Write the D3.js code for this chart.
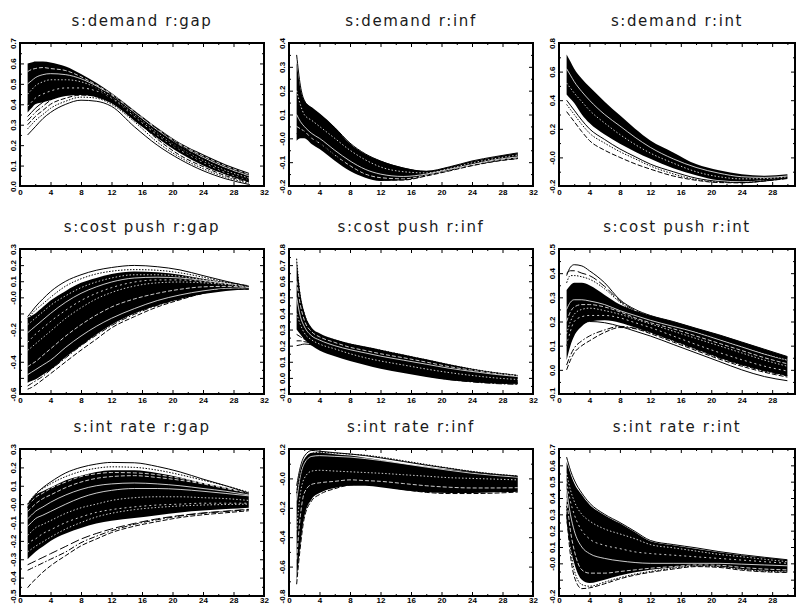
<!DOCTYPE html>
<html>
<head>
<meta charset="utf-8">
<script src="https://cdn.jsdelivr.net/npm/d3@7"></script>
<style>
  body { margin: 0; background: #fff; }
  .tick text { font-family: "Liberation Sans", Arial, sans-serif; font-weight: bold; font-size: 8px; fill: #000; }
  .tick line { stroke: #000; stroke-width: 1; }
</style>
</head>
<body>
<div id="chart"></div>
<script>
"use strict";

var periods = [1, 1.5, 2, 3, 4, 6, 8, 10, 12, 15, 18, 21, 24, 27, 30];
var xTickLabels = ["0", "4", "8", "12", "16", "20", "24", "28", "32"];

var titles = [
  "s:demand r:gap", "s:demand r:inf", "s:demand r:int",
  "s:cost push r:gap", "s:cost push r:inf", "s:cost push r:int",
  "s:int rate r:gap", "s:int rate r:inf", "s:int rate r:int"
];

// y tick labels per panel (as printed)
var demandGapTicks = ["0.0", "0.1", "0.2", "0.3", "0.4", "0.5", "0.6", "0.7"];
var demandInfTicks = ["-0.2", "-0.1", "-0.0", "0.1", "0.2", "0.3", "0.4"];
var demandIntTicks = ["-0.2", "-0.0", "0.2", "0.4", "0.6", "0.8"];
var costGapTicks = ["-0.6", "-0.4", "-0.2", "-0.0", "0.1", "0.2", "0.3"];
var costInfTicks = ["-0.1", "0.0", "0.1", "0.2", "0.3", "0.4", "0.5", "0.6", "0.7", "0.8"];
var costIntTicks = ["-0.1", "0.0", "0.1", "0.2", "0.3", "0.4", "0.5"];
var rateGapTicks = ["-0.5", "-0.4", "-0.3", "-0.2", "-0.1", "-0.0", "0.1", "0.2", "0.3"];
var rateInfTicks = ["-0.8", "-0.6", "-0.4", "-0.2", "-0.0", "0.2"];
var rateIntTicks = ["-0.2", "-0.0", "0.1", "0.2", "0.3", "0.4", "0.5", "0.6", "0.7"];
var tickSteps = [0.1, 0.1, 0.2, 0.1, 0.1, 0.1, 0.1, 0.2, 0.1];

// ---- s:demand r:gap
var demandGapUpper = [0.60, 0.605, 0.61, 0.61, 0.605, 0.585, 0.548, 0.505, 0.455, 0.37, 0.285, 0.21, 0.155, 0.105, 0.065];
var demandGapLower = [0.36, 0.38, 0.40, 0.41, 0.42, 0.44, 0.445, 0.435, 0.405, 0.32, 0.235, 0.16, 0.10, 0.055, 0.02];
var demandGapLines = [
  [0.25, 0.27, 0.29, 0.33, 0.36, 0.40, 0.42, 0.415, 0.39, 0.29, 0.20, 0.13, 0.075, 0.035, 0.008],
  [0.30, 0.32, 0.34, 0.37, 0.40, 0.43, 0.445, 0.44, 0.41, 0.33, 0.23, 0.15, 0.095, 0.05, 0.02],
  [0.28, 0.30, 0.32, 0.35, 0.38, 0.415, 0.435, 0.43, 0.40, 0.315, 0.215, 0.14, 0.085, 0.043, 0.014],
  [0.32, 0.34, 0.36, 0.39, 0.42, 0.45, 0.46, 0.45, 0.425, 0.345, 0.255, 0.175, 0.11, 0.06, 0.025],
  [0.40, 0.42, 0.44, 0.47, 0.49, 0.505, 0.50, 0.48, 0.445, 0.365, 0.28, 0.20, 0.135, 0.085, 0.045],
  [0.34, 0.36, 0.38, 0.41, 0.44, 0.465, 0.47, 0.46, 0.435, 0.355, 0.265, 0.185, 0.12, 0.07, 0.03]
];
var demandGapGaps = [
  [0.50, 0.515, 0.53, 0.545, 0.55, 0.545, 0.525, 0.49, 0.445, 0.36, 0.275, 0.20, 0.14, 0.09, 0.05],
  [0.45, 0.47, 0.49, 0.51, 0.52, 0.52, 0.51, 0.48, 0.435, 0.35, 0.26, 0.185, 0.125, 0.075, 0.04],
  [0.56, 0.57, 0.575, 0.58, 0.575, 0.565, 0.535, 0.495, 0.45, 0.365, 0.28, 0.205, 0.148, 0.098, 0.058],
  [0.39, 0.41, 0.43, 0.45, 0.465, 0.48, 0.48, 0.465, 0.43, 0.34, 0.25, 0.175, 0.115, 0.065, 0.03]
];

// ---- s:demand r:inf
var demandInfUpper = [0.32, 0.21, 0.16, 0.13, 0.105, 0.047, -0.022, -0.066, -0.094, -0.122, -0.137, -0.12, -0.096, -0.078, -0.062];
var demandInfLower = [-0.01, 0.0, 0.0, -0.025, -0.045, -0.094, -0.137, -0.165, -0.179, -0.176, -0.158, -0.137, -0.115, -0.098, -0.087];
var demandInfLines = [
  [0.35, 0.22, 0.16, 0.125, 0.10, 0.045, -0.02, -0.065, -0.095, -0.125, -0.138, -0.12, -0.095, -0.077, -0.061],
  [0.02, 0.03, 0.03, 0.0, -0.02, -0.07, -0.12, -0.155, -0.175, -0.175, -0.158, -0.137, -0.115, -0.097, -0.085]
];
var demandInfGaps = [
  [0.10, 0.07, 0.05, 0.02, 0.0, -0.05, -0.095, -0.13, -0.15, -0.16, -0.15, -0.13, -0.11, -0.09, -0.078],
  [0.20, 0.14, 0.10, 0.075, 0.05, 0.0, -0.05, -0.09, -0.12, -0.14, -0.145, -0.127, -0.103, -0.085, -0.07],
  [0.05, 0.04, 0.03, 0.0, -0.02, -0.07, -0.115, -0.15, -0.165, -0.17, -0.155, -0.135, -0.112, -0.094, -0.082]
];

// ---- s:demand r:int
var demandIntUpper = [0.72, 0.67, 0.62, 0.55, 0.494, 0.39, 0.294, 0.20, 0.118, 0.035, -0.047, -0.09, -0.118, -0.128, -0.118];
var demandIntLower = [0.44, 0.41, 0.38, 0.30, 0.24, 0.16, 0.095, 0.04, -0.01, -0.075, -0.125, -0.16, -0.168, -0.16, -0.145];
var demandIntLines = [
  [0.40, 0.365, 0.33, 0.26, 0.20, 0.125, 0.059, 0.005, -0.047, -0.10, -0.145, -0.168, -0.176, -0.165, -0.145],
  [0.32, 0.285, 0.25, 0.18, 0.118, 0.05, 0.0, -0.045, -0.082, -0.13, -0.16, -0.176, -0.178, -0.165, -0.148],
  [0.37, 0.335, 0.30, 0.23, 0.17, 0.10, 0.04, -0.01, -0.06, -0.115, -0.155, -0.172, -0.176, -0.163, -0.146]
];
var demandIntGaps = [
  [0.62, 0.575, 0.53, 0.46, 0.40, 0.30, 0.22, 0.14, 0.07, -0.01, -0.07, -0.11, -0.135, -0.14, -0.13],
  [0.52, 0.485, 0.45, 0.39, 0.33, 0.24, 0.16, 0.09, 0.03, -0.04, -0.10, -0.135, -0.15, -0.148, -0.136]
];

// ---- s:cost push r:gap
var costGapUpper = [-0.13, -0.115, -0.10, -0.06, -0.02, 0.04, 0.09, 0.12, 0.145, 0.16, 0.155, 0.14, 0.115, 0.095, 0.075];
var costGapLower = [-0.53, -0.52, -0.51, -0.48, -0.45, -0.37, -0.30, -0.23, -0.17, -0.10, -0.05, -0.01, 0.02, 0.04, 0.05];
var costGapLines = [
  [-0.12, -0.09, -0.06, -0.01, 0.035, 0.10, 0.14, 0.168, 0.185, 0.198, 0.19, 0.17, 0.135, 0.10, 0.068],
  [-0.57, -0.56, -0.545, -0.51, -0.474, -0.40, -0.328, -0.26, -0.19, -0.12, -0.06, -0.015, 0.025, 0.05, 0.05],
  [-0.13, -0.105, -0.08, -0.04, 0.0, 0.07, 0.115, 0.145, 0.162, 0.172, 0.168, 0.152, 0.125, 0.095, 0.068],
  [-0.55, -0.535, -0.52, -0.49, -0.45, -0.375, -0.30, -0.235, -0.175, -0.105, -0.05, -0.01, 0.025, 0.048, 0.052]
];
var costGapGaps = [
  [-0.22, -0.20, -0.18, -0.14, -0.10, -0.03, 0.025, 0.065, 0.095, 0.12, 0.125, 0.12, 0.105, 0.088, 0.07],
  [-0.33, -0.31, -0.29, -0.25, -0.21, -0.13, -0.065, -0.01, 0.03, 0.07, 0.09, 0.095, 0.09, 0.08, 0.065],
  [-0.43, -0.415, -0.40, -0.36, -0.32, -0.24, -0.17, -0.11, -0.06, -0.01, 0.025, 0.05, 0.065, 0.068, 0.062],
  [-0.28, -0.255, -0.23, -0.19, -0.15, -0.08, -0.02, 0.025, 0.06, 0.095, 0.108, 0.108, 0.098, 0.085, 0.068],
  [-0.48, -0.465, -0.45, -0.42, -0.39, -0.31, -0.24, -0.18, -0.13, -0.07, -0.02, 0.015, 0.04, 0.055, 0.058],
  [-0.17, -0.15, -0.13, -0.09, -0.05, 0.01, 0.06, 0.095, 0.12, 0.14, 0.14, 0.13, 0.11, 0.09, 0.072]
];

// ---- s:cost push r:inf
var costInfUpper = [0.74, 0.52, 0.41, 0.31, 0.277, 0.24, 0.214, 0.195, 0.175, 0.145, 0.115, 0.085, 0.057, 0.035, 0.018];
var costInfLower = [0.30, 0.27, 0.24, 0.20, 0.17, 0.135, 0.105, 0.08, 0.057, 0.03, 0.005, -0.015, -0.026, -0.033, -0.037];
var costInfLines = [
  [0.20, 0.205, 0.21, 0.205, 0.19, 0.16, 0.13, 0.10, 0.075, 0.045, 0.02, -0.005, -0.022, -0.032, -0.037],
  [0.23, 0.23, 0.225, 0.215, 0.20, 0.17, 0.14, 0.11, 0.085, 0.055, 0.03, 0.005, -0.012, -0.025, -0.032],
  [0.74, 0.50, 0.40, 0.30, 0.27, 0.235, 0.21, 0.19, 0.172, 0.142, 0.112, 0.082, 0.055, 0.033, 0.016],
  [0.27, 0.255, 0.24, 0.215, 0.195, 0.158, 0.123, 0.095, 0.07, 0.04, 0.013, -0.01, -0.025, -0.035, -0.04]
];
var costInfGaps = [
  [0.50, 0.38, 0.32, 0.26, 0.235, 0.20, 0.175, 0.155, 0.135, 0.11, 0.085, 0.06, 0.04, 0.022, 0.008],
  [0.40, 0.33, 0.28, 0.235, 0.21, 0.18, 0.15, 0.125, 0.105, 0.08, 0.055, 0.033, 0.015, 0.0, -0.01],
  [0.60, 0.45, 0.36, 0.285, 0.255, 0.22, 0.19, 0.17, 0.15, 0.125, 0.098, 0.07, 0.048, 0.028, 0.012]
];

// ---- s:cost push r:int
var costIntUpper = [0.33, 0.35, 0.36, 0.36, 0.35, 0.31, 0.27, 0.245, 0.225, 0.20, 0.172, 0.145, 0.115, 0.085, 0.055];
var costIntLower = [0.04, 0.10, 0.14, 0.18, 0.20, 0.205, 0.195, 0.175, 0.155, 0.12, 0.085, 0.05, 0.02, -0.005, -0.025];
var costIntLines = [
  [0.39, 0.425, 0.435, 0.43, 0.41, 0.36, 0.29, 0.25, 0.225, 0.20, 0.172, 0.145, 0.115, 0.085, 0.055],
  [0.0, 0.04, 0.07, 0.10, 0.12, 0.155, 0.175, 0.17, 0.15, 0.115, 0.08, 0.045, 0.015, -0.01, -0.03],
  [0.36, 0.39, 0.39, 0.385, 0.375, 0.335, 0.28, 0.24, 0.215, 0.19, 0.16, 0.13, 0.10, 0.07, 0.04],
  [0.02, 0.06, 0.09, 0.12, 0.14, 0.165, 0.18, 0.172, 0.155, 0.12, 0.085, 0.05, 0.02, -0.005, -0.025],
  [0.40, 0.41, 0.41, 0.40, 0.39, 0.345, 0.285, 0.245, 0.22, 0.195, 0.168, 0.14, 0.11, 0.08, 0.05],
  [0.10, 0.14, 0.17, 0.19, 0.20, 0.195, 0.18, 0.16, 0.14, 0.105, 0.07, 0.035, 0.0, -0.028, -0.045]
];
var costIntGaps = [
  [0.25, 0.28, 0.29, 0.29, 0.285, 0.27, 0.245, 0.225, 0.205, 0.18, 0.155, 0.125, 0.095, 0.065, 0.04],
  [0.15, 0.20, 0.23, 0.25, 0.255, 0.245, 0.23, 0.21, 0.19, 0.16, 0.13, 0.10, 0.07, 0.04, 0.015],
  [0.20, 0.24, 0.26, 0.27, 0.27, 0.26, 0.24, 0.215, 0.195, 0.17, 0.14, 0.11, 0.08, 0.05, 0.025],
  [0.10, 0.16, 0.20, 0.22, 0.225, 0.225, 0.215, 0.195, 0.175, 0.14, 0.105, 0.072, 0.042, 0.015, -0.005]
];

// ---- s:int rate r:gap
var rateGapUpper = [0.0, 0.03, 0.05, 0.07, 0.09, 0.13, 0.155, 0.175, 0.185, 0.185, 0.17, 0.145, 0.115, 0.09, 0.06];
var rateGapLower = [-0.30, -0.28, -0.26, -0.23, -0.20, -0.16, -0.13, -0.105, -0.09, -0.075, -0.06, -0.045, -0.035, -0.027, -0.02];
var rateGapLines = [
  [-0.02, 0.02, 0.05, 0.09, 0.12, 0.17, 0.20, 0.218, 0.227, 0.225, 0.205, 0.175, 0.136, 0.10, 0.06],
  [-0.455, -0.43, -0.41, -0.37, -0.336, -0.28, -0.227, -0.19, -0.155, -0.12, -0.095, -0.073, -0.058, -0.047, -0.036],
  [0.0, 0.03, 0.055, 0.085, 0.11, 0.15, 0.178, 0.195, 0.203, 0.20, 0.185, 0.16, 0.13, 0.10, 0.065],
  [-0.36, -0.35, -0.34, -0.32, -0.30, -0.26, -0.21, -0.175, -0.145, -0.11, -0.085, -0.065, -0.05, -0.04, -0.03],
  [-0.33, -0.32, -0.31, -0.29, -0.27, -0.23, -0.19, -0.16, -0.135, -0.105, -0.08, -0.062, -0.048, -0.038, -0.028]
];
var rateGapGaps = [
  [-0.08, -0.06, -0.04, -0.015, 0.01, 0.05, 0.08, 0.10, 0.11, 0.115, 0.11, 0.10, 0.085, 0.07, 0.05],
  [-0.17, -0.15, -0.13, -0.11, -0.09, -0.05, -0.02, 0.0, 0.02, 0.035, 0.04, 0.04, 0.035, 0.03, 0.02],
  [-0.04, -0.02, 0.0, 0.03, 0.05, 0.09, 0.12, 0.14, 0.15, 0.155, 0.145, 0.13, 0.11, 0.085, 0.06],
  [-0.22, -0.20, -0.19, -0.16, -0.14, -0.10, -0.07, -0.045, -0.03, -0.015, -0.005, 0.0, 0.005, 0.005, 0.005],
  [-0.12, -0.10, -0.08, -0.06, -0.04, 0.0, 0.035, 0.06, 0.075, 0.085, 0.085, 0.08, 0.07, 0.058, 0.045],
  [-0.26, -0.245, -0.23, -0.205, -0.18, -0.135, -0.10, -0.07, -0.05, -0.03, -0.018, -0.01, -0.005, -0.002, 0.0],
  [-0.01, 0.015, 0.035, 0.06, 0.085, 0.12, 0.15, 0.165, 0.172, 0.17, 0.16, 0.14, 0.115, 0.09, 0.062]
];

// ---- s:int rate r:inf
var rateInfUpper = [-0.07, 0.06, 0.13, 0.175, 0.175, 0.165, 0.155, 0.14, 0.125, 0.10, 0.08, 0.06, 0.043, 0.027, 0.015];
var rateInfLower = [-0.70, -0.45, -0.26, -0.14, -0.10, -0.065, -0.05, -0.05, -0.06, -0.08, -0.095, -0.10, -0.10, -0.095, -0.09];
var rateInfLines = [
  [-0.05, 0.08, 0.15, 0.19, 0.185, 0.175, 0.166, 0.155, 0.14, 0.115, 0.09, 0.068, 0.045, 0.028, 0.015],
  [-0.72, -0.46, -0.27, -0.15, -0.11, -0.07, -0.045, -0.04, -0.05, -0.075, -0.095, -0.103, -0.103, -0.10, -0.093],
  [-0.10, 0.04, 0.12, 0.17, 0.178, 0.172, 0.165, 0.158, 0.145, 0.12, 0.095, 0.07, 0.048, 0.03, 0.017]
];
var rateInfGaps = [
  [-0.15, 0.02, 0.10, 0.15, 0.155, 0.15, 0.145, 0.135, 0.122, 0.10, 0.077, 0.055, 0.035, 0.02, 0.008],
  [-0.35, -0.10, 0.0, 0.05, 0.055, 0.05, 0.045, 0.04, 0.035, 0.025, 0.015, 0.005, 0.0, -0.005, -0.01],
  [-0.55, -0.25, -0.10, -0.04, -0.03, -0.02, -0.01, -0.015, -0.02, -0.035, -0.05, -0.06, -0.065, -0.065, -0.063]
];

// ---- s:int rate r:int
var rateIntUpper = [0.62, 0.55, 0.49, 0.42, 0.36, 0.295, 0.245, 0.19, 0.135, 0.11, 0.09, 0.068, 0.05, 0.035, 0.02];
var rateIntLower = [0.25, 0.10, 0.0, -0.10, -0.12, -0.10, -0.075, -0.055, -0.04, -0.025, -0.015, -0.02, -0.035, -0.045, -0.05];
var rateIntLines = [
  [0.65, 0.57, 0.51, 0.43, 0.37, 0.30, 0.25, 0.195, 0.14, 0.115, 0.095, 0.072, 0.053, 0.037, 0.022],
  [0.30, 0.05, -0.08, -0.155, -0.15, -0.125, -0.095, -0.072, -0.055, -0.035, -0.02, -0.025, -0.042, -0.052, -0.056],
  [0.35, 0.10, -0.04, -0.13, -0.14, -0.115, -0.088, -0.066, -0.05, -0.03, -0.016, -0.02, -0.036, -0.048, -0.053]
];
var rateIntGaps = [
  [0.45, 0.30, 0.20, 0.10, 0.06, 0.03, 0.015, 0.005, 0.0, 0.0, 0.0, 0.0, -0.005, -0.01, -0.015],
  [0.55, 0.45, 0.38, 0.30, 0.26, 0.21, 0.18, 0.15, 0.115, 0.095, 0.075, 0.055, 0.04, 0.025, 0.01],
  [0.40, 0.20, 0.08, -0.04, -0.06, -0.06, -0.05, -0.04, -0.03, -0.02, -0.01, -0.012, -0.025, -0.035, -0.04],
  [0.50, 0.38, 0.30, 0.20, 0.15, 0.11, 0.09, 0.07, 0.06, 0.05, 0.04, 0.03, 0.02, 0.01, 0.0]
];

var panels = [
  { ticks: demandGapTicks, upper: demandGapUpper, lower: demandGapLower, lines: demandGapLines, gaps: demandGapGaps },
  { ticks: demandInfTicks, upper: demandInfUpper, lower: demandInfLower, lines: demandInfLines, gaps: demandInfGaps },
  { ticks: demandIntTicks, upper: demandIntUpper, lower: demandIntLower, lines: demandIntLines, gaps: demandIntGaps },
  { ticks: costGapTicks, upper: costGapUpper, lower: costGapLower, lines: costGapLines, gaps: costGapGaps },
  { ticks: costInfTicks, upper: costInfUpper, lower: costInfLower, lines: costInfLines, gaps: costInfGaps },
  { ticks: costIntTicks, upper: costIntUpper, lower: costIntLower, lines: costIntLines, gaps: costIntGaps },
  { ticks: rateGapTicks, upper: rateGapUpper, lower: rateGapLower, lines: rateGapLines, gaps: rateGapGaps },
  { ticks: rateInfTicks, upper: rateInfUpper, lower: rateInfLower, lines: rateInfLines, gaps: rateInfGaps },
  { ticks: rateIntTicks, upper: rateIntUpper, lower: rateIntLower, lines: rateIntLines, gaps: rateIntGaps }
];

// layout
var colLeft = [20, 289, 559], colRight = [264, 533, 795];
var rowTop = [43, 249, 449], rowBottom = [186, 394, 596];
var labelPad = [3, 3, 1.5];
var lineDash = ["", "5,2", "1.5,1.5", "6,2,1.5,2", "9,3", ""];
var gapDash = ["", "1.5,2", "4,2", "2,3"];

var svg = d3.select("#chart").append("svg")
  .attr("width", 796)
  .attr("height", 605);

panels.forEach(function(p, i) {
  var col = i % 3, row = Math.floor(i / 3);
  var x0 = colLeft[col], x1 = colRight[col], y0 = rowTop[row], y1 = rowBottom[row];
  var tickVals = p.ticks.map(function(s) { return +s; });
  var step = tickSteps[i];

  var x = d3.scaleLinear().domain([0, col === 2 ? 31 : 32]).range([x0, x1]);
  var y = d3.scaleLinear().domain(d3.extent(tickVals)).range([y1, y0]);

  var g = svg.append("g");

  // title
  g.append("text")
    .attr("x", (x0 + x1) / 2)
    .attr("y", y0 - 17)
    .attr("text-anchor", "middle")
    .style("font-family", "'DejaVu Sans', sans-serif")
    .style("font-size", "15px")
    .style("letter-spacing", "1.6px")
    .style("fill", "#1a1a1a")
    .text(titles[i]);

  g.append("clipPath").attr("id", "clip" + i)
    .append("rect")
    .attr("x", x0).attr("y", y0).attr("width", x1 - x0).attr("height", y1 - y0);

  var plot = g.append("g").attr("clip-path", "url(#clip" + i + ")");

  var pts = function(vals) {
    return vals.map(function(v, k) { return [periods[k], v]; });
  };

  // dense core of the responses
  var area = d3.area()
    .curve(d3.curveMonotoneX)
    .x(function(d, k) { return x(periods[k]); })
    .y0(function(d, k) { return y(p.lower[k]); })
    .y1(function(d) { return y(d); });

  plot.append("path")
    .attr("d", area(p.upper))
    .attr("fill", "#000");

  var line = d3.line()
    .curve(d3.curveMonotoneX)
    .x(function(d) { return x(d[0]); })
    .y(function(d) { return y(d[1]); });

  // light streaks inside the band
  plot.selectAll(".gap").data(p.gaps).enter().append("path")
    .attr("d", function(d) { return line(pts(d)); })
    .attr("fill", "none")
    .attr("stroke", "#fff")
    .attr("stroke-width", 0.8)
    .attr("stroke-dasharray", function(d, k) { return gapDash[k % gapDash.length]; });

  // single draws that stand out of the band
  plot.selectAll(".draw").data(p.lines).enter().append("path")
    .attr("d", function(d) { return line(pts(d)); })
    .attr("fill", "none")
    .attr("stroke", "#000")
    .attr("stroke-width", 1)
    .attr("stroke-dasharray", function(d, k) { return lineDash[k % lineDash.length]; });

  // axes
  var xMajor = xTickLabels.map(Number).filter(function(v) { return v <= x.domain()[1]; });
  var xMinor = d3.range(2, x.domain()[1], 4);
  var yMajor = d3.range(Math.round((y.domain()[1] - y.domain()[0]) / step) + 1)
    .map(function(k) { return y.domain()[0] + k * step; });
  var yMinor = yMajor.slice(1).map(function(v) { return v - step / 2; });

  var labelFor = function(v) {
    var hit = p.ticks.filter(function(s) { return Math.abs(+s - v) < 1e-9; });
    return hit.length ? hit[0] : "";
  };

  var ax = g.append("g").attr("transform", "translate(0," + y1 + ")")
    .call(d3.axisBottom(x).tickValues(xMajor).tickSize(-4).tickPadding(labelPad[row]).tickFormat(d3.format("d")));
  ax.select(".domain").remove();
  g.append("g").attr("transform", "translate(0," + y1 + ")")
    .call(d3.axisBottom(x).tickValues(xMinor).tickSize(-2).tickFormat(""))
    .select(".domain").remove();
  g.append("g").attr("transform", "translate(0," + y0 + ")")
    .call(d3.axisTop(x).tickValues(xMajor).tickSize(-4).tickFormat(""))
    .select(".domain").remove();
  g.append("g").attr("transform", "translate(0," + y0 + ")")
    .call(d3.axisTop(x).tickValues(xMinor).tickSize(-2).tickFormat(""))
    .select(".domain").remove();

  var ay = g.append("g").attr("transform", "translate(" + x0 + ",0)")
    .call(d3.axisLeft(y).tickValues(yMajor).tickSize(-4).tickFormat(labelFor));
  ay.select(".domain").remove();
  ay.selectAll("text")
    .attr("transform", "rotate(-90)")
    .attr("x", 0).attr("y", -4).attr("dy", 0)
    .attr("text-anchor", "middle");
  g.append("g").attr("transform", "translate(" + x0 + ",0)")
    .call(d3.axisLeft(y).tickValues(yMinor).tickSize(-2).tickFormat(""))
    .select(".domain").remove();
  g.append("g").attr("transform", "translate(" + x1 + ",0)")
    .call(d3.axisRight(y).tickValues(yMajor).tickSize(-4).tickFormat(""))
    .select(".domain").remove();
  g.append("g").attr("transform", "translate(" + x1 + ",0)")
    .call(d3.axisRight(y).tickValues(yMinor).tickSize(-2).tickFormat(""))
    .select(".domain").remove();

  // frame
  g.append("rect")
    .attr("x", x0).attr("y", y0)
    .attr("width", x1 - x0).attr("height", y1 - y0)
    .attr("fill", "none")
    .attr("stroke", "#000")
    .attr("stroke-width", 2);
});
</script>
</body>
</html>
